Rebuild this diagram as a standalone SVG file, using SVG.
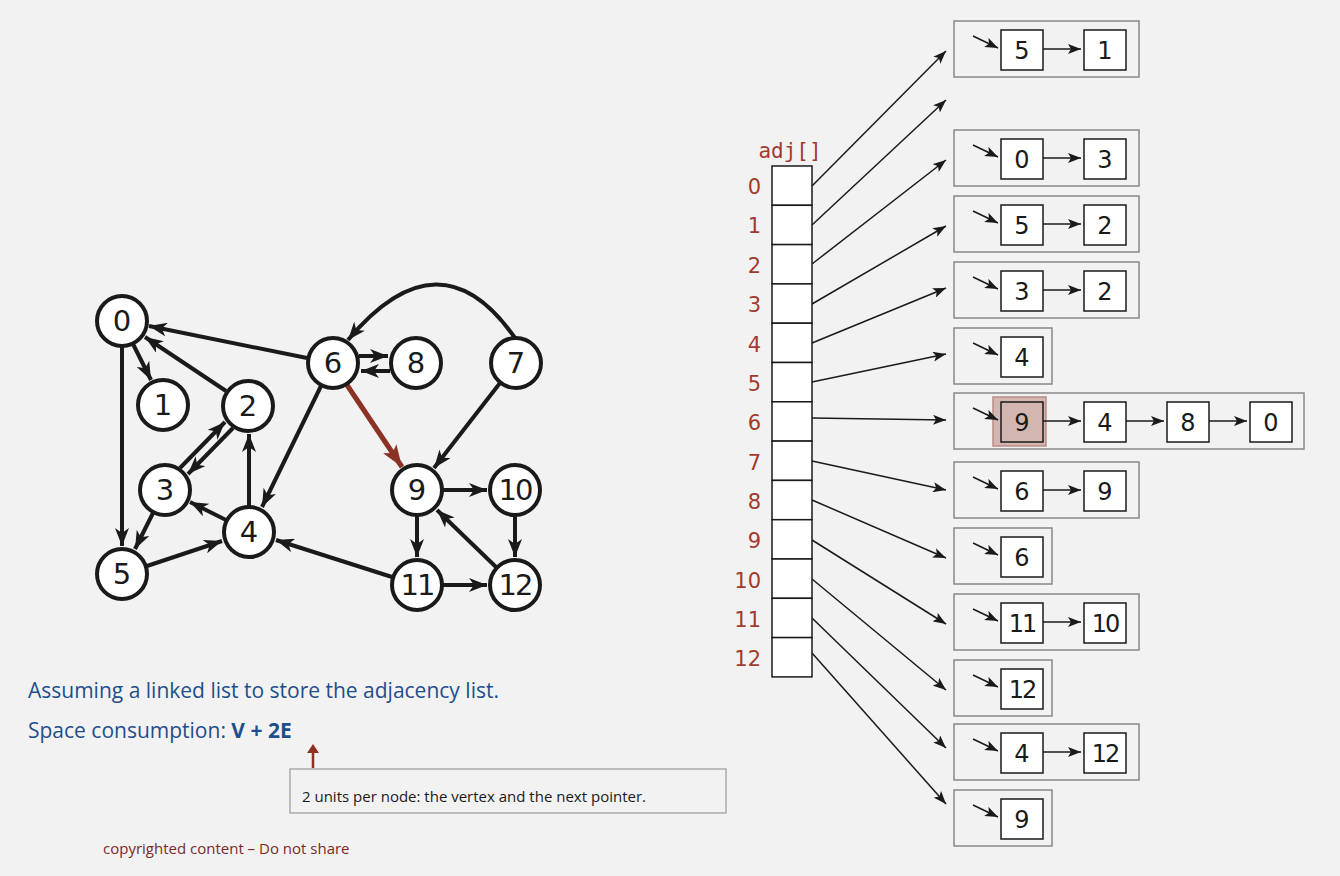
<svg xmlns="http://www.w3.org/2000/svg" width="1340" height="876" viewBox="0 0 1340 876">
<style>
.n circle{fill:#fff;stroke:#1a1a1a;stroke-width:4}
.n text,.lt{font-family:"DejaVu Sans",sans-serif;fill:#1a1a1a;text-anchor:middle}
.n text{font-size:29px}
.e line,.e path{stroke:#1a1a1a;stroke-width:4;fill:none;marker-end:url(#ah)}
.a line{stroke:#1a1a1a;stroke-width:1.5;marker-end:url(#sa)}
.lb{fill:none;stroke:#888;stroke-width:1.5}
.cell{fill:#fff;stroke:#1a1a1a;stroke-width:1.5}
.nb{fill:#fff;stroke:#1a1a1a;stroke-width:1.5}
.lt{font-size:24px}
.idx{font-family:"DejaVu Sans",sans-serif;font-size:21px;fill:#a23a2e;text-anchor:end}
.blue{font-family:"Open Sans",sans-serif;font-size:21px;fill:#1f4e8c}
</style>
<defs>
<marker id="ah" markerUnits="userSpaceOnUse" markerWidth="20" markerHeight="14" refX="18" refY="7" orient="auto"><path d="M0,0 L18,7 L0,14 L5,7 z" fill="#1a1a1a"/></marker>
<marker id="ahr" markerUnits="userSpaceOnUse" markerWidth="24" markerHeight="16" refX="22" refY="8" orient="auto"><path d="M0,0 L22,8 L0,16 L5,8 z" fill="#8b3224"/></marker>
<marker id="sa" markerUnits="userSpaceOnUse" markerWidth="14" markerHeight="10" refX="13" refY="5" orient="auto"><path d="M0,0 L13,5 L0,10 L3,5 z" fill="#1a1a1a"/></marker>
</defs>
<rect width="1340" height="876" fill="#f2f2f2"/>
<g id="edges" class="e">
<line x1="133" y1="344" x2="151" y2="380"/>
<line x1="122" y1="347" x2="122" y2="546"/>
<line x1="226" y1="391" x2="145" y2="337"/>
<line x1="307" y1="358" x2="149" y2="326"/>
<line x1="180" y1="468" x2="225" y2="422"/>
<line x1="233" y1="428" x2="188" y2="474"/>
<line x1="249" y1="506" x2="249" y2="434"/>
<line x1="226" y1="520" x2="190" y2="502"/>
<line x1="153" y1="513" x2="135" y2="549"/>
<line x1="147" y1="566" x2="222" y2="541"/>
<line x1="321" y1="386" x2="262" y2="507"/>
<line x1="359" y1="356" x2="388" y2="356"/>
<line x1="390" y1="371" x2="361" y2="371"/>
<path d="M515,338 Q440,230 348,340"/>
<line x1="500" y1="383" x2="434" y2="468"/>
<line x1="347" y1="385" x2="402" y2="467" style="stroke:#8b3224;stroke-width:5;marker-end:url(#ahr)"/>
<line x1="443" y1="490" x2="487" y2="490"/>
<line x1="417" y1="516" x2="417" y2="557"/>
<line x1="515" y1="516" x2="515" y2="557"/>
<line x1="496" y1="567" x2="437" y2="510"/>
<line x1="443" y1="585" x2="487" y2="585"/>
<line x1="392" y1="577" x2="276" y2="540"/>
</g>
<g id="n0" class="n"><circle cx="122" cy="321" r="25"/><text x="122" y="331">0</text></g>
<g id="n1" class="n"><circle cx="163" cy="405" r="25"/><text x="163" y="415">1</text></g>
<g id="n2" class="n"><circle cx="248" cy="406" r="25"/><text x="248" y="416">2</text></g>
<g id="n3" class="n"><circle cx="165" cy="490" r="25"/><text x="165" y="500">3</text></g>
<g id="n4" class="n"><circle cx="249" cy="532" r="25"/><text x="249" y="542">4</text></g>
<g id="n5" class="n"><circle cx="122" cy="574" r="25"/><text x="122" y="584">5</text></g>
<g id="n6" class="n"><circle cx="333" cy="363" r="25"/><text x="333" y="373">6</text></g>
<g id="n8" class="n"><circle cx="416" cy="363" r="25"/><text x="416" y="373">8</text></g>
<g id="n7" class="n"><circle cx="516" cy="363" r="25"/><text x="516" y="373">7</text></g>
<g id="n9" class="n"><circle cx="417" cy="490" r="25"/><text x="417" y="500">9</text></g>
<g id="n10" class="n"><circle cx="515" cy="490" r="25"/><text x="515" y="500" style="letter-spacing:-2px">10</text></g>
<g id="n11" class="n"><circle cx="417" cy="585" r="25"/><text x="417" y="595" style="letter-spacing:-2px">11</text></g>
<g id="n12" class="n"><circle cx="515" cy="585" r="25"/><text x="515" y="595" style="letter-spacing:-2px">12</text></g>

<g id="array">
<text x="790" y="158" style="font-family:'DejaVu Sans Mono',monospace;font-size:21px;fill:#a23a2e;text-anchor:middle">adj[]</text>
<rect class="cell" x="772" y="166" width="40" height="39.3"/><rect class="cell" x="772" y="205.3" width="40" height="39.3"/><rect class="cell" x="772" y="244.6" width="40" height="39.3"/><rect class="cell" x="772" y="283.9" width="40" height="39.3"/><rect class="cell" x="772" y="323.2" width="40" height="39.3"/><rect class="cell" x="772" y="362.5" width="40" height="39.3"/><rect class="cell" x="772" y="401.8" width="40" height="39.3"/><rect class="cell" x="772" y="441.1" width="40" height="39.3"/><rect class="cell" x="772" y="480.4" width="40" height="39.3"/><rect class="cell" x="772" y="519.7" width="40" height="39.3"/><rect class="cell" x="772" y="559" width="40" height="39.3"/><rect class="cell" x="772" y="598.3" width="40" height="39.3"/><rect class="cell" x="772" y="637.6" width="40" height="39.3"/>
<text class="idx" x="761" y="194">0</text><text class="idx" x="761" y="233">1</text><text class="idx" x="761" y="273">2</text><text class="idx" x="761" y="312">3</text><text class="idx" x="761" y="352">4</text><text class="idx" x="761" y="391">5</text><text class="idx" x="761" y="430">6</text><text class="idx" x="761" y="470">7</text><text class="idx" x="761" y="509">8</text><text class="idx" x="761" y="548">9</text><text class="idx" x="761" y="588">10</text><text class="idx" x="761" y="627">11</text><text class="idx" x="761" y="666">12</text>
</g>
<g id="ptrs" class="a">
<line x1="812" y1="186" x2="946" y2="51"/>
<line x1="812" y1="225" x2="946" y2="100"/>
<line x1="812" y1="264" x2="946" y2="160"/>
<line x1="812" y1="304" x2="946" y2="226"/>
<line x1="812" y1="343" x2="946" y2="288"/>
<line x1="812" y1="382" x2="946" y2="354"/>
<line x1="812" y1="418" x2="946" y2="420"/>
<line x1="812" y1="461" x2="946" y2="490"/>
<line x1="812" y1="500" x2="946" y2="558"/>
<line x1="812" y1="540" x2="946" y2="624"/>
<line x1="812" y1="579" x2="946" y2="690"/>
<line x1="812" y1="618" x2="946" y2="748"/>
<line x1="812" y1="653" x2="946" y2="804"/>
</g>
<g id="lists">
<g transform="translate(954,21)"><rect class="lb" width="185" height="56"/><g class="a"><line x1="19" y1="15" x2="44" y2="27"/><line x1="89" y1="28" x2="127" y2="28"/></g><rect class="nb" x="47" y="9" width="42" height="40"/><rect class="nb" x="130" y="9" width="42" height="40"/><text class="lt" x="68" y="38">5</text><text class="lt" x="151" y="38">1</text></g>
<g transform="translate(954,130)"><rect class="lb" width="185" height="56"/><g class="a"><line x1="19" y1="15" x2="44" y2="27"/><line x1="89" y1="28" x2="127" y2="28"/></g><rect class="nb" x="47" y="9" width="42" height="40"/><rect class="nb" x="130" y="9" width="42" height="40"/><text class="lt" x="68" y="38">0</text><text class="lt" x="151" y="38">3</text></g>
<g transform="translate(954,196)"><rect class="lb" width="185" height="56"/><g class="a"><line x1="19" y1="15" x2="44" y2="27"/><line x1="89" y1="28" x2="127" y2="28"/></g><rect class="nb" x="47" y="9" width="42" height="40"/><rect class="nb" x="130" y="9" width="42" height="40"/><text class="lt" x="68" y="38">5</text><text class="lt" x="151" y="38">2</text></g>
<g transform="translate(954,262)"><rect class="lb" width="185" height="56"/><g class="a"><line x1="19" y1="15" x2="44" y2="27"/><line x1="89" y1="28" x2="127" y2="28"/></g><rect class="nb" x="47" y="9" width="42" height="40"/><rect class="nb" x="130" y="9" width="42" height="40"/><text class="lt" x="68" y="38">3</text><text class="lt" x="151" y="38">2</text></g>
<g transform="translate(954,328)"><rect class="lb" width="98" height="56"/><g class="a"><line x1="19" y1="15" x2="44" y2="27"/></g><rect class="nb" x="47" y="9" width="42" height="40"/><text class="lt" x="68" y="38">4</text></g>
<g transform="translate(954,393)"><rect class="lb" width="350" height="56"/><rect x="39" y="4" width="53" height="49" fill="#d4b6b1" stroke="#b98c86" stroke-width="1.5"/><g class="a"><line x1="19" y1="15" x2="44" y2="27"/><line x1="89" y1="28" x2="127" y2="28"/><line x1="172" y1="28" x2="210" y2="28"/><line x1="255" y1="28" x2="293" y2="28"/></g><rect class="nb" x="47" y="9" width="42" height="40" style="fill:#d4b6b1"/><rect class="nb" x="130" y="9" width="42" height="40"/><rect class="nb" x="213" y="9" width="42" height="40"/><rect class="nb" x="296" y="9" width="42" height="40"/><text class="lt" x="68" y="38">9</text><text class="lt" x="151" y="38">4</text><text class="lt" x="234" y="38">8</text><text class="lt" x="317" y="38">0</text></g>
<g transform="translate(954,462)"><rect class="lb" width="185" height="56"/><g class="a"><line x1="19" y1="15" x2="44" y2="27"/><line x1="89" y1="28" x2="127" y2="28"/></g><rect class="nb" x="47" y="9" width="42" height="40"/><rect class="nb" x="130" y="9" width="42" height="40"/><text class="lt" x="68" y="38">6</text><text class="lt" x="151" y="38">9</text></g>
<g transform="translate(954,528)"><rect class="lb" width="98" height="56"/><g class="a"><line x1="19" y1="15" x2="44" y2="27"/></g><rect class="nb" x="47" y="9" width="42" height="40"/><text class="lt" x="68" y="38">6</text></g>
<g transform="translate(954,594)"><rect class="lb" width="185" height="56"/><g class="a"><line x1="19" y1="15" x2="44" y2="27"/><line x1="89" y1="28" x2="127" y2="28"/></g><rect class="nb" x="47" y="9" width="42" height="40"/><rect class="nb" x="130" y="9" width="42" height="40"/><text class="lt" x="68" y="38" style="letter-spacing:-2px">11</text><text class="lt" x="151" y="38" style="letter-spacing:-2px">10</text></g>
<g transform="translate(954,660)"><rect class="lb" width="98" height="56"/><g class="a"><line x1="19" y1="15" x2="44" y2="27"/></g><rect class="nb" x="47" y="9" width="42" height="40"/><text class="lt" x="68" y="38" style="letter-spacing:-2px">12</text></g>
<g transform="translate(954,724)"><rect class="lb" width="185" height="56"/><g class="a"><line x1="19" y1="15" x2="44" y2="27"/><line x1="89" y1="28" x2="127" y2="28"/></g><rect class="nb" x="47" y="9" width="42" height="40"/><rect class="nb" x="130" y="9" width="42" height="40"/><text class="lt" x="68" y="38">4</text><text class="lt" x="151" y="38" style="letter-spacing:-2px">12</text></g>
<g transform="translate(954,790)"><rect class="lb" width="98" height="56"/><g class="a"><line x1="19" y1="15" x2="44" y2="27"/></g><rect class="nb" x="47" y="9" width="42" height="40"/><text class="lt" x="68" y="38">9</text></g>
</g>
<text class="blue" x="28" y="698">Assuming a linked list to store the adjacency list.</text>
<text class="blue" x="28" y="738">Space consumption: <tspan font-weight="bold">V + 2E</tspan></text>
<line x1="313" y1="768" x2="313" y2="752" stroke="#8b3224" stroke-width="2.5"/>
<path d="M307,753 L313,744 L319,753 z" fill="#8b3224"/>
<rect x="290" y="769" width="436" height="44" fill="#f2f2f2" stroke="#999" stroke-width="1.2"/>
<text x="302" y="802" style="font-family:'Open Sans',sans-serif;font-size:15px;fill:#1a1a1a">2 units per node: the vertex and the next pointer.</text>
<text x="103" y="854" style="font-family:'Open Sans',sans-serif;font-size:15px;fill:#7a2a1f">copyrighted content – Do not share</text>
</svg>
